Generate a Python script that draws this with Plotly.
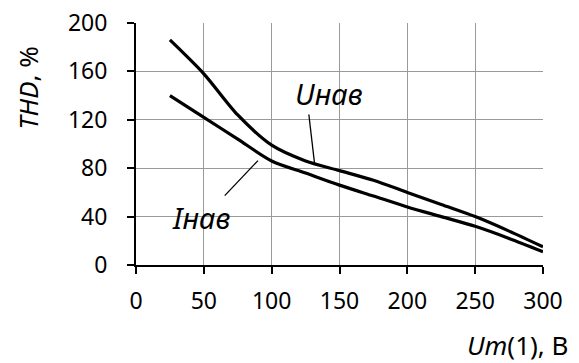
import plotly.graph_objects as go

x_vals = [25, 50, 75, 100, 125, 150, 175, 200, 225, 250, 275, 300]
u_nav = [186, 158, 124, 99, 86, 78, 70, 60, 50, 40, 28, 15]
i_nav = [140, 122, 104, 86, 76, 66, 57, 48, 40, 32, 22, 11]
x_ticks = [0, 50, 100, 150, 200, 250, 300]
y_ticks = [0, 40, 80, 120, 160, 200]

FONT = "Noto Sans"
TICK_FS = 23
TITLE_FS = 26
XTITLE_FS = 26
LABEL_FS = 29
fig = go.Figure()
for ys in (u_nav, i_nav):
    fig.add_trace(go.Scatter(x=x_vals, y=ys, mode="lines",
                             line=dict(color="black", width=3.2, shape="spline", smoothing=0.8),
                             showlegend=False, hoverinfo="skip"))
# empty trace to hold the label-only overlay axes
fig.add_trace(go.Scatter(x=[], y=[], xaxis="x2", yaxis="y2", showlegend=False, hoverinfo="skip"))

# leader lines
fig.add_shape(type="line", x0=127.4, y0=124.4, x1=131.6, y1=84, line=dict(color="black", width=1.3))
fig.add_shape(type="line", x0=65.4, y0=57.3, x1=89.9, y1=86.3, line=dict(color="black", width=1.3))

fig.add_annotation(x=142.6, y=141.8, text="<i>Uнав</i>", showarrow=False,
                   font=dict(family=FONT, size=LABEL_FS, color="black"))
fig.add_annotation(x=48.2, y=39.4, text="<i>Iнав</i>", showarrow=False,
                   font=dict(family=FONT, size=LABEL_FS, color="black"))

fig.add_annotation(xref="paper", yref="paper", x=-0.265, xanchor="center", y=0.73, yanchor="middle",
                   text="<i>THD</i>, %", textangle=-90, showarrow=False,
                   font=dict(family=FONT, size=TITLE_FS, color="black"))
fig.add_annotation(xref="paper", yref="paper", x=1.066, xanchor="right", y=-0.33, yanchor="middle",
                   text="<i>Um</i>(1), В", showarrow=False, font=dict(family=FONT, size=XTITLE_FS, color="black"))

common = dict(showgrid=True, gridcolor="#9a9a9a", gridwidth=1,
              showline=True, linecolor="black", linewidth=2, ticks="outside", ticklen=7,
              tickwidth=2, tickcolor="black", zeroline=False, automargin=False,
              showticklabels=False)
fig.update_layout(
    xaxis=dict(range=[0, 300], tickvals=x_ticks, **common),
    yaxis=dict(range=[0, 200], tickvals=y_ticks, **common),
    xaxis2=dict(range=[0, 300], tickvals=x_ticks, overlaying="x", anchor="y", side="bottom",
                showgrid=False, showline=False, zeroline=False, ticks="outside", ticklen=15,
                tickcolor="rgba(0,0,0,0)", automargin=False,
                tickfont=dict(family=FONT, size=TICK_FS, color="black")),
    yaxis2=dict(range=[0, 200], tickvals=y_ticks, overlaying="y", anchor="x", side="left",
                showgrid=False, showline=False, zeroline=False, ticks="outside", ticklen=23,
                tickcolor="rgba(0,0,0,0)", automargin=False,
                tickfont=dict(family=FONT, size=TICK_FS, color="black")),
    width=579, height=363, margin=dict(l=136, r=36, t=23, b=98),
    plot_bgcolor="white", paper_bgcolor="white")
fig.write_html("out.html")
